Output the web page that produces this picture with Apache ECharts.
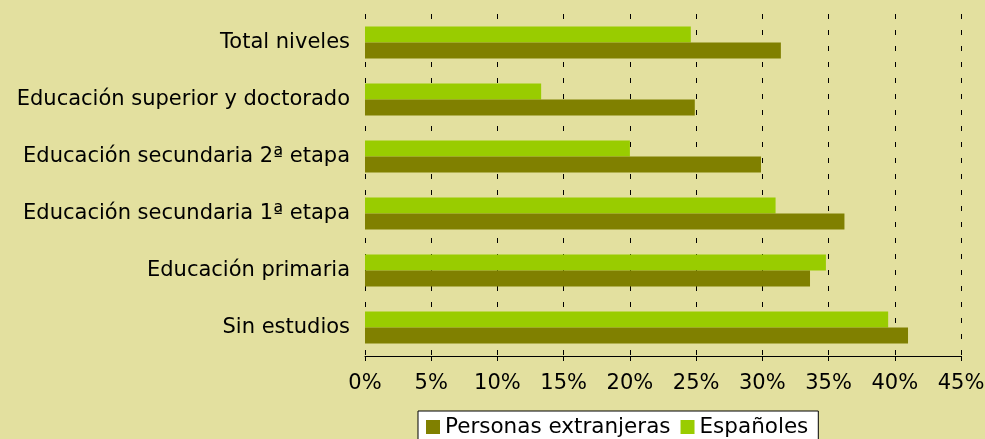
<!DOCTYPE html>
<html lang="es">
<head>
<meta charset="utf-8" />
<title>Nivel de estudios</title>
<script src="https://cdn.jsdelivr.net/npm/echarts@6/dist/echarts.min.js"></script>
<style>
  html, body { margin: 0; padding: 0; background: #e3e09f; }
  #chart { width: 985px; height: 439px; }
</style>
</head>
<body>
<div id="chart"></div>
<script>
// categorias de abajo hacia arriba (eje de categorias de ECharts empieza abajo)
const niveles = ['Sin estudios', 'Educación primaria', 'Educación secundaria 1ª etapa',
  'Educación secundaria 2ª etapa', 'Educación superior y doctorado', 'Total niveles'];
const extranjeros = [41.0, 33.6, 36.2, 29.9, 24.9, 31.4];
const espanoles = [39.5, 34.8, 31.0, 20.0, 13.3, 24.6];
const ticksX = [0, 5, 10, 15, 20, 25, 30, 35, 40, 45];

const fuente = '"DejaVu Sans", Verdana, sans-serif';
const chart = echarts.init(document.getElementById('chart'));

chart.setOption({
  backgroundColor: '#e3e09f',
  animation: false,
  textStyle: { fontFamily: fuente, color: '#000' },
  grid: { left: 365, right: 24, top: 14, bottom: 83, outerBoundsMode: 'none', containLabel: false },
  legend: {
    top: 411,
    left: 418,
    data: ['Personas extranjeras', 'Españoles'],
    backgroundColor: '#fff',
    borderColor: '#000',
    borderWidth: 1,
    padding: [5, 10, 10, 8],
    itemWidth: 14,
    itemHeight: 14,
    itemGap: 10,
    icon: 'rect',
    textStyle: { fontFamily: fuente, fontSize: 21.5, color: '#000' }
  },
  xAxis: {
    type: 'value',
    min: ticksX[0],
    max: ticksX[ticksX.length - 1],
    interval: 5,
    axisLine: { show: true, lineStyle: { color: '#000', width: 1 } },
    axisTick: { show: true, length: 5, lineStyle: { color: '#000' } },
    axisLabel: { fontSize: 21, fontFamily: fuente, color: '#000', margin: 17, formatter: '{value}%' },
    splitLine: { show: true, lineStyle: { color: '#000', type: [5, 11], width: 1 } }
  },
  yAxis: {
    type: 'category',
    data: niveles,
    axisLine: { show: false },
    axisTick: { show: false },
    axisLabel: { fontSize: 21, fontFamily: fuente, color: '#000', margin: 15 }
  },
  // la primera serie se dibuja abajo dentro de cada categoria
  series: [
    {
      name: 'Españoles',
      type: 'bar',
      data: espanoles,
      barWidth: 16,
      barGap: '0%',
      itemStyle: { color: '#99cc00' }
    },
    {
      name: 'Personas extranjeras',
      type: 'bar',
      data: extranjeros,
      barWidth: 16,
      barGap: '0%',
      itemStyle: { color: '#808000' }
    }
  ]
});
</script>
</body>
</html>
